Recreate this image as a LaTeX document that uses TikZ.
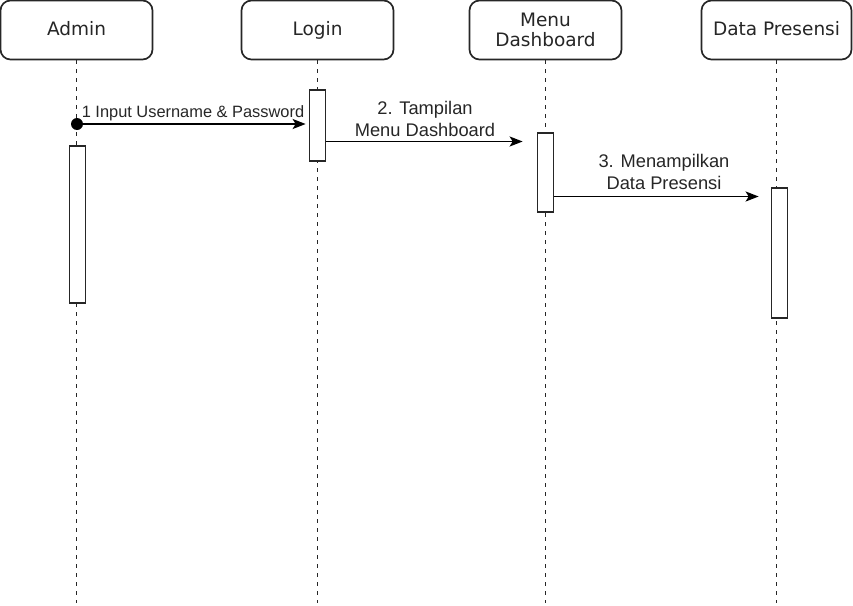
\documentclass[tikz,border=0pt]{standalone}
\usepackage{fontspec}
\setmainfont{Liberation Sans}
\newfontfamily\headfont{DejaVu Sans}
\usetikzlibrary{arrows.meta}
\definecolor{ink}{HTML}{262626}
\tikzset{
  head/.style={draw=ink, line width=1.7pt, rounded corners=10pt, fill=white,
    minimum width=152pt, minimum height=59pt, inner sep=0pt, align=center,
    font={\headfont\fontsize{18.5}{20}\selectfont}, text=ink},
  lifeline/.style={draw=ink, line width=1.7pt, dash pattern=on 4pt off 5pt},
  bar/.style={draw=ink, line width=1.7pt, fill=white, minimum width=16pt, inner sep=0pt},
  msg/.style={draw=black, line width=1.7pt, -{Stealth[length=13pt,width=10pt,inset=3pt]}},
  dot/.style={circle, fill=black, minimum size=12pt, inner sep=0pt},
  msglabel/.style={inner sep=0pt, align=center, text=ink,
    font={\fontsize{18.3}{22}\selectfont}},
  smalllabel/.style={inner sep=0pt, text=ink, font={\fontsize{16.4}{18}\selectfont}}
}
\begin{document}
\begin{tikzpicture}[x=1pt, y=-1pt]
\useasboundingbox (0,0) rectangle (853,605);

% participant headers
\node[head] (admin) at (76.5,30) {\vphantom{g}Admin};
\node[head] (login) at (317.5,30) {\vphantom{A}Login};
\node[head] (menu)  at (545.5,30) {Menu\\Dashboard};
\node[head, minimum width=150pt] (data) at (776.5,30) {\vphantom{g}Data Presensi};

% lifeline ends
\coordinate (adminEnd) at (admin.south |- 0,603);
\coordinate (loginEnd) at (login.south |- 0,603);
\coordinate (menuEnd)  at (menu.south |- 0,603);
\coordinate (dataEnd)  at (data.south |- 0,603);

\draw[lifeline] (admin.south) -- (adminEnd);
\draw[lifeline] (login.south) -- (loginEnd);
\draw[lifeline] (menu.south)  -- (menuEnd);
\draw[lifeline] (data.south)  -- (dataEnd);

% activation bars
\node[bar, minimum height=157pt] (adminBar) at (77.5,224.5) {};
\node[bar, minimum height=71pt]  (loginBar) at (317.5,125.5) {};
\node[bar, minimum height=79pt]  (menuBar)  at (545.5,172.5) {};
\node[bar, minimum height=130pt] (dataBar)  at (779.5,253) {};

% message 1: Admin -> Login
\node[dot] (start) at (77,124) {};
\draw[msg, shorten >=3pt] (start.center) -- (start -| loginBar.west);
\node[smalllabel, anchor=base] (lbl1) at (193,117) {1 Input Username \& Password};

% message 2: Login -> Menu Dashboard
\coordinate (y2) at (0,141.5);
\draw[msg, shorten >=14pt] (loginBar.east |- y2) -- (menuBar.west |- y2);
\node[msglabel, anchor=south] (lbl2) at (425,137) {2. Tampilan\\Menu Dashboard};

% message 3: Menu Dashboard -> Data Presensi
\coordinate (y3) at (0,196.5);
\draw[msg, shorten >=12pt] (menuBar.east |- y3) -- (dataBar.west |- y3);
\node[msglabel, anchor=south] (lbl3) at (664,190) {3. Menampilkan\\Data Presensi};
\end{tikzpicture}
\end{document}
